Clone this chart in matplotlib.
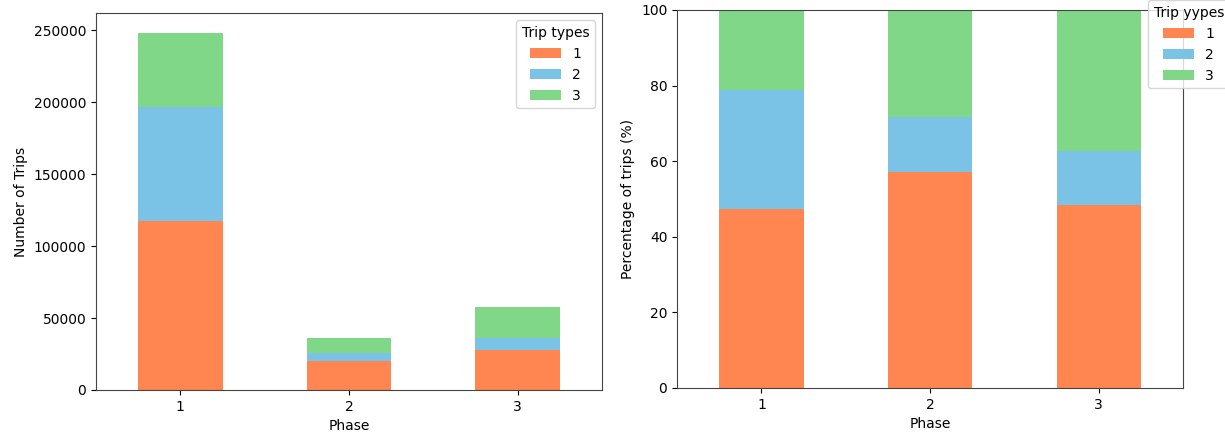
import numpy as np
import matplotlib
matplotlib.use("Agg")
import matplotlib.pyplot as plt

# -------------------------
# Data
# -------------------------
phases = ["1", "2", "3"]
type_labels = ["1", "2", "3"]
trips_type1 = [117500, 20100, 27800]
trips_type2 = [79000, 5600, 8300]
trips_type3 = [51500, 10400, 21500]

pct_type1 = [47.4, 57.2, 48.5]
pct_type2 = [31.5, 14.6, 14.1]
pct_type3 = [21.1, 28.2, 37.4]

colors = ["#ff8650", "#7bc3e6", "#80d787"]

plt.rcParams["font.family"] = "DejaVu Sans"
plt.rcParams["font.size"] = 10

fig = plt.figure(figsize=(12.25, 4.34), dpi=100)
ax1 = fig.add_axes([0.0784, 0.1014, 0.413, 0.8675])
ax2 = fig.add_axes([0.5527, 0.106, 0.413, 0.871])

x = np.arange(len(phases))
width = 0.5


def stacked(ax, series):
    bottom = np.zeros(len(phases))
    for vals, c, lab in zip(series, colors, type_labels):
        ax.bar(x, vals, width, bottom=bottom, color=c, label=lab)
        bottom += np.array(vals)
    ax.set_xticks(x)
    ax.set_xticklabels(phases)
    ax.set_xlim(-0.5, 2.5)
    ax.set_xlabel("Phase")
    for s in ax.spines.values():
        s.set_color("#444444")


stacked(ax1, [trips_type1, trips_type2, trips_type3])
ax1.set_ylim(0, 261800)
ax1.set_yticks([0, 50000, 100000, 150000, 200000, 250000])
ax1.set_ylabel("Number of Trips")
ax1.legend(title="Trip types", loc="upper right", handlelength=2.2)

stacked(ax2, [pct_type1, pct_type2, pct_type3])
ax2.set_ylim(0, 100)
ax2.set_yticks([0, 20, 40, 60, 80, 100])
ax2.set_ylabel("Percentage of trips (%)")
ax2.legend(title="Trip yypes", loc="upper left", handlelength=2.2,
           bbox_to_anchor=(1141 / 1225, 1.015), bbox_transform=fig.transFigure)

fig.savefig("out.png", dpi=100)
